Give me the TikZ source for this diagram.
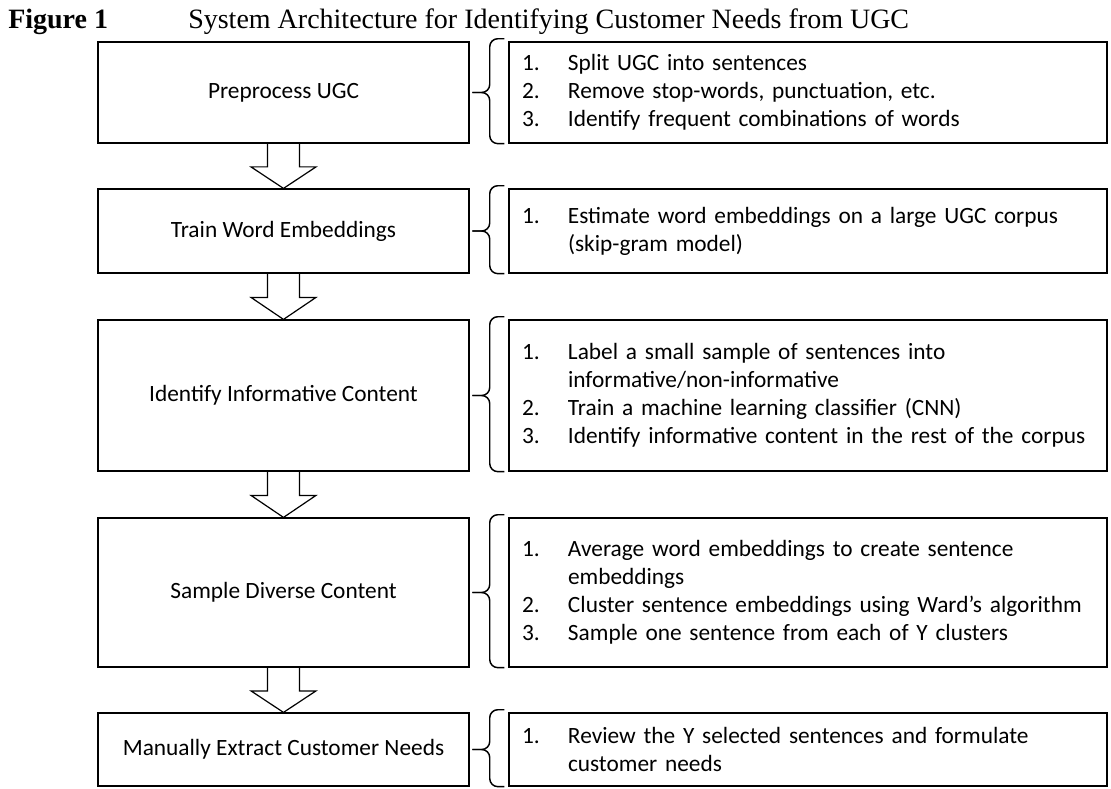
\documentclass[tikz,border=0pt]{standalone}
\usepackage{fontspec}
\setmainfont{Carlito}
\newfontfamily\captionfont{Liberation Serif}
\usetikzlibrary{calc}

% numbered line and continuation line of a step list
\newcommand{\itm}[2]{\makebox[34.5pt][l]{#1}\mbox{#2}}
\newcommand{\cont}[1]{\hspace*{34.5pt}\mbox{#1}}

% hollow block arrow from the bottom of one box to the top of the next
\newcommand{\blockarrow}[2]{%
  \draw[line width=0.9pt]
    ($(#1.south)+(-16,0)$) -- ($(#1.south)!0.52!(#2.north)+(-16,0)$)
    -- ($(#1.south)!0.52!(#2.north)+(-32.5,0)$) -- (#2.north)
    -- ($(#1.south)!0.52!(#2.north)+(32.5,0)$)
    -- ($(#1.south)!0.52!(#2.north)+(16,0)$) -- ($(#1.south)+(16,0)$);}

\begin{document}
\begin{tikzpicture}[x=0.75pt,y=-0.75pt]
    \tikzstyle{stepbox}=[draw, line width=0.9pt, minimum width=278.25pt, align=center, inner sep=0pt,
      font=\fontsize{17.5}{21}\selectfont]
    \tikzstyle{detailbox}=[draw, line width=0.9pt, text width=429pt, inner xsep=9.75pt, inner ysep=0pt,
      align=left, font=\fontsize{17.5}{21}\selectfont]
    \tikzstyle{bracket}=[line width=1.1pt, rounded corners=6pt]

    \useasboundingbox (0,0) rectangle (1111,789);

    \node[anchor=base west, inner sep=0pt, font=\captionfont\bfseries\fontsize{21}{24}\selectfont] (fig) at (8,28) {Figure 1};
    \node[anchor=base west, inner sep=0pt, font=\captionfont\fontsize{21}{24}\selectfont] (title) at (188,28)
    {System Architecture for Identifying Customer Needs from UGC};

    \node[stepbox, minimum height=75.75pt] (pre) at (283.5,92.5) {Preprocess UGC};
    \node[stepbox, minimum height=63pt] (train) at (283.5,231) {Train Word Embeddings};
    \node[stepbox, minimum height=113.25pt] (inf) at (283.5,395.5) {Identify Informative Content};
    \node[stepbox, minimum height=111.75pt] (div) at (283.5,592.5) {Sample Diverse Content};
    \node[stepbox, minimum height=54.75pt] (needs) at (283.5,749.5) {Manually Extract Customer Needs};

    \node[detailbox, minimum height=75.75pt] (preD) at (808,92.5)
    {\itm{1.}{Split UGC into sentences}\\
     \itm{2.}{Remove stop-words, punctuation, etc.}\\
     \itm{3.}{Identify frequent combinations of words}};
    \node[detailbox, minimum height=63pt] (trainD) at (808,231)
    {\itm{1.}{Estimate word embeddings on a large UGC corpus}\\
     \cont{(skip-gram model)}};
    \node[detailbox, minimum height=113.25pt] (infD) at (808,395.5)
    {\itm{1.}{Label a small sample of sentences into}\\
     \cont{informative/non-informative}\\
     \itm{2.}{Train a machine learning classifier (CNN)}\\
     \itm{3.}{Identify informative content in the rest of the corpus}};
    \node[detailbox, minimum height=111.75pt] (divD) at (808,592.5)
    {\itm{1.}{Average word embeddings to create sentence}\\
     \cont{embeddings}\\
     \itm{2.}{Cluster sentence embeddings using Ward's algorithm}\\
     \itm{3.}{Sample one sentence from each of Y clusters}};
    \node[detailbox, minimum height=54.75pt] (needsD) at (808,749.5)
    {\itm{1.}{Review the Y selected sentences and formulate}\\
     \cont{customer needs}};

    \blockarrow{pre}{train}
    \blockarrow{train}{inf}
    \blockarrow{inf}{div}
    \blockarrow{div}{needs}

    % braces: two halves meeting in a short tick
    \foreach \d in {preD,trainD,infD,divD,needsD}{
      \draw[bracket] ([xshift=-3pt,yshift=2pt]\d.north west) -| ([xshift=-14pt]\d.west) -- ([xshift=-27pt]\d.west);
      \draw[bracket] ([xshift=-3pt]\d.south west) -| ([xshift=-14pt]\d.west) -- ([xshift=-27pt]\d.west);
    }
  \end{tikzpicture}
\end{document}
